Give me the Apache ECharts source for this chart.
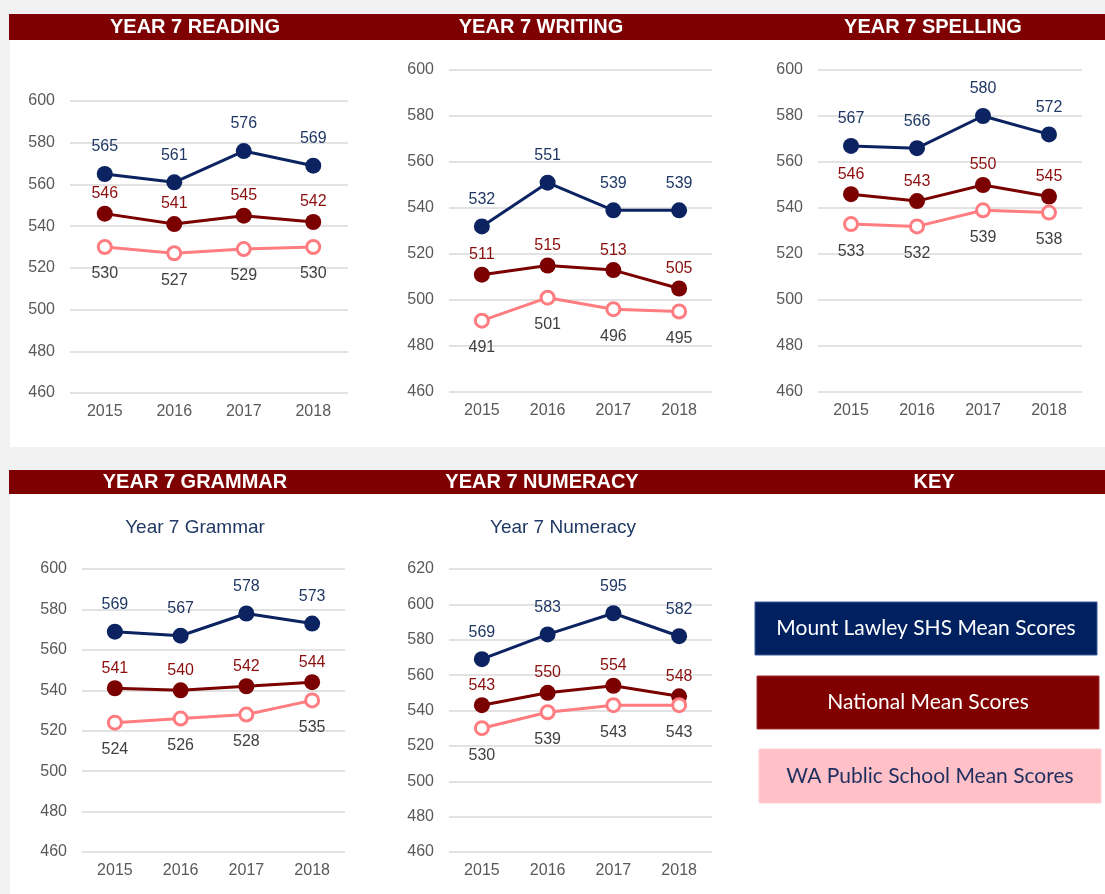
<!DOCTYPE html>
<html>
<head>
<meta charset="utf-8">
<title>Year 7 NAPLAN</title>
<script src="https://cdn.jsdelivr.net/npm/echarts@6/dist/echarts.min.js"></script>
<style>
    html, body { margin: 0; padding: 0; background: #f2f2f2; }
    #main { width: 1105px; height: 894px; }
</style>
</head>
<body>
<div id="main"></div>
<script>
// years on the x axis
var years = ['2015', '2016', '2017', '2018'];

// mean scores
var readingSchool = [565, 561, 576, 569];
var readingNational = [546, 541, 545, 542];
var readingWA = [530, 527, 529, 530];

var writingSchool = [532, 551, 539, 539];
var writingNational = [511, 515, 513, 505];
var writingWA = [491, 501, 496, 495];

var spellingSchool = [567, 566, 580, 572];
var spellingNational = [546, 543, 550, 545];
var spellingWA = [533, 532, 539, 538];

var grammarSchool = [569, 567, 578, 573];
var grammarNational = [541, 540, 542, 544];
var grammarWA = [524, 526, 528, 535];

var numeracySchool = [569, 583, 595, 582];
var numeracyNational = [543, 550, 554, 548];
var numeracyWA = [530, 539, 543, 543];

// y axis ranges
var axisMin = [460, 460, 460, 460, 460];
var axisMax = [600, 600, 600, 600, 620];

var seriesNames = ['Mount Lawley SHS Mean Scores', 'National Mean Scores', 'WA Public School Mean Scores'];

var FONT = '"Liberation Sans", Arial, sans-serif';
var NAVY = '#0b2361';
var MAROON = '#7b0000';
var PINK = '#ff7c80';

// plot areas of the five small charts
var layout = [
    {left: 70, top: 101, width: 278, height: 292},
    {left: 449, top: 70, width: 263, height: 322},
    {left: 818, top: 70, width: 264, height: 322},
    {left: 82, top: 569, width: 263, height: 283},
    {left: 449, top: 569, width: 263, height: 283}
];

var panels = [
    [readingSchool, readingNational, readingWA],
    [writingSchool, writingNational, writingWA],
    [spellingSchool, spellingNational, spellingWA],
    [grammarSchool, grammarNational, grammarWA],
    [numeracySchool, numeracyNational, numeracyWA]
];

var grids = [], xAxes = [], yAxes = [], series = [];

for (var i = 0; i < panels.length; i++) {
    var g = layout[i];
    grids.push({
        left: g.left, top: g.top, width: g.width, height: g.height,
        containLabel: false,
        outerBoundsMode: 'none'
    });
    xAxes.push({
        type: 'category',
        gridIndex: i,
        data: years,
        boundaryGap: true,
        axisLine: {show: false},
        axisTick: {show: false},
        axisLabel: {color: '#595959', fontSize: 16, fontFamily: FONT, margin: 11}
    });
    yAxes.push({
        type: 'value',
        gridIndex: i,
        min: axisMin[i],
        max: axisMax[i],
        interval: 20,
        axisLine: {show: false},
        axisTick: {show: false},
        axisLabel: {color: '#595959', fontSize: 16, fontFamily: FONT, margin: 15},
        splitLine: {lineStyle: {color: '#d9d9d9', width: 1.5}}
    });

    // school
    series.push({
        name: seriesNames[0],
        type: 'line',
        xAxisIndex: i,
        yAxisIndex: i,
        data: panels[i][0],
        symbol: 'circle',
        symbolSize: 16,
        lineStyle: {color: NAVY, width: 3},
        itemStyle: {color: NAVY},
        label: {show: true, position: 'top', distance: 11, color: '#1f3864', fontSize: 16, fontFamily: FONT},
        emphasis: {disabled: true}
    });
    // national
    series.push({
        name: seriesNames[1],
        type: 'line',
        xAxisIndex: i,
        yAxisIndex: i,
        data: panels[i][1],
        symbol: 'circle',
        symbolSize: 16,
        lineStyle: {color: MAROON, width: 3},
        itemStyle: {color: MAROON},
        label: {show: true, position: 'top', distance: 4, color: '#8b0e0e', fontSize: 16, fontFamily: FONT},
        emphasis: {disabled: true}
    });
    // WA public
    series.push({
        name: seriesNames[2],
        type: 'line',
        xAxisIndex: i,
        yAxisIndex: i,
        data: panels[i][2],
        symbol: 'circle',
        symbolSize: 13,
        lineStyle: {color: PINK, width: 3},
        itemStyle: {color: '#ffffff', borderColor: PINK, borderWidth: 3},
        label: {show: true, position: 'bottom', distance: 11, color: '#404040', fontSize: 16, fontFamily: FONT},
        emphasis: {disabled: true}
    });
}

function headerText(x, y, text) {
    return {
        type: 'text', x: x, y: y, z: -5,
        style: {
            text: text, fill: '#ffffff', font: 'bold 20px ' + FONT,
            align: 'center', verticalAlign: 'middle',
            textAlign: 'center', textVerticalAlign: 'middle'
        }
    };
}

function keyBox(x, y, w, h, fill, stroke, text, textColor) {
    return [{
        type: 'rect', z: -5,
        shape: {x: x, y: y, width: w, height: h},
        style: {fill: fill, stroke: stroke, lineWidth: 1}
    }, {
        type: 'text', x: x + w / 2, y: y + h / 2, z: -4,
        style: {
            text: text, fill: textColor, font: '21px Lato, "Open Sans", sans-serif',
            align: 'center', verticalAlign: 'middle',
            textAlign: 'center', textVerticalAlign: 'middle'
        }
    }];
}

var graphics = [
    // white panels
    {type: 'rect', z: -10, shape: {x: 10, y: 40, width: 1095, height: 407}, style: {fill: '#ffffff'}},
    {type: 'rect', z: -10, shape: {x: 10, y: 494, width: 1095, height: 400}, style: {fill: '#ffffff'}},
    // header bars
    {type: 'rect', z: -8, shape: {x: 9, y: 14, width: 1096, height: 26}, style: {fill: '#7f0000'}},
    {type: 'rect', z: -8, shape: {x: 9, y: 470, width: 1096, height: 24}, style: {fill: '#7f0000'}},
    headerText(195, 27, 'YEAR 7 READING'),
    headerText(541, 27, 'YEAR 7 WRITING'),
    headerText(933, 27, 'YEAR 7 SPELLING'),
    headerText(195, 482, 'YEAR 7 GRAMMAR'),
    headerText(542, 482, 'YEAR 7 NUMERACY'),
    headerText(934, 482, 'KEY'),
    // chart subtitles
    {type: 'text', x: 195, y: 528, z: -5, style: {text: 'Year 7 Grammar', fill: '#1f3864', font: '19px ' + FONT,
        align: 'center', verticalAlign: 'middle', textAlign: 'center', textVerticalAlign: 'middle'}},
    {type: 'text', x: 563, y: 528, z: -5, style: {text: 'Year 7 Numeracy', fill: '#1f3864', font: '19px ' + FONT,
        align: 'center', verticalAlign: 'middle', textAlign: 'center', textVerticalAlign: 'middle'}}
];
graphics = graphics
    .concat(keyBox(755, 602, 342, 53, '#002060', '#3a5a9a', seriesNames[0], '#ffffff'))
    .concat(keyBox(757, 676, 342, 53, '#800000', '#a03030', seriesNames[1], '#ffffff'))
    .concat(keyBox(759, 749, 342, 54, '#ffc0c7', '#ffd0d6', seriesNames[2], '#1f2f5f'));

var myChart = echarts.init(document.getElementById('main'));
myChart.setOption({
    backgroundColor: '#f2f2f2',
    animation: false,
    textStyle: {fontFamily: FONT},
    graphic: {elements: graphics},
    grid: grids,
    xAxis: xAxes,
    yAxis: yAxes,
    series: series
});
</script>
</body>
</html>
